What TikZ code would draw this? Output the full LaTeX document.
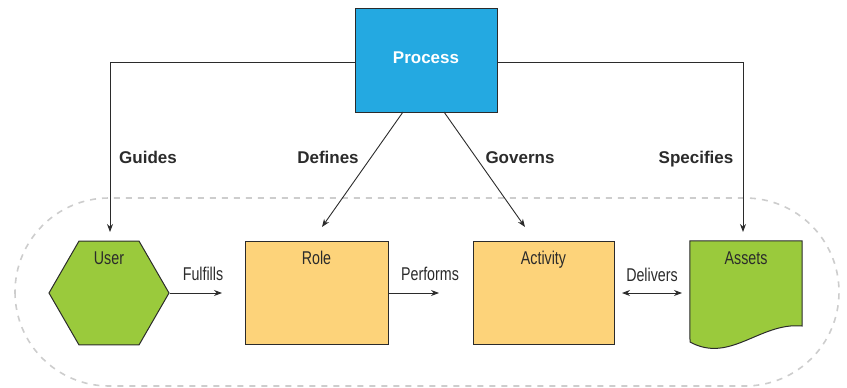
\documentclass[tikz,border=0pt]{standalone}
\usepackage{fontspec}
\setmainfont{Liberation Sans}
\newfontfamily\condfont[FakeStretch=0.77]{Liberation Sans}
\usetikzlibrary{arrows.meta,shapes.geometric}
\definecolor{procblue}{HTML}{24A9E1}
\definecolor{roleyel}{HTML}{FDD37A}
\definecolor{usergreen}{HTML}{9ACA3C}
\definecolor{inkgray}{HTML}{2B2B2B}
\definecolor{dashgray}{HTML}{CDCDCD}
\tikzset{
  box/.style={draw=inkgray, line width=1pt, inner sep=0pt},
  arr/.style={draw=inkgray, line width=0.9pt, -{Stealth[length=8pt,width=6pt]}},
  darr/.style={draw=inkgray, line width=0.9pt, {Stealth[length=8pt,width=6pt]}-{Stealth[length=8pt,width=6pt]}},
  boldlbl/.style={font=\bfseries\fontsize{17}{20}\selectfont, text=inkgray, anchor=base, inner sep=0pt},
  condlbl/.style={font=\condfont\fontsize{18.5}{22}\selectfont, text=inkgray, anchor=base, inner sep=0pt},
  dashbox/.style={draw=dashgray, line width=1.6pt, dash pattern=on 6pt off 6pt, rounded corners=94pt}
}
\begin{document}
\begin{tikzpicture}[x=1pt,y=-1pt]
\useasboundingbox (0,0) rectangle (847,388);
% dashed boundary
\draw[dashbox] (15,198) rectangle (839,386);
% process
\node[box, fill=procblue, minimum width=142pt, minimum height=104pt] (process) at (426,60) {};
\node[font=\bfseries\fontsize{17}{20}\selectfont, text=white, anchor=base, inner sep=0pt] (proctext) at (426,63) {Process};
% user hexagon
\node[box, fill=usergreen, regular polygon, regular polygon sides=6, minimum size=120pt] (user) at (109,293) {};
\node[condlbl] (usertext) at (109,264) {User};
% role and activity
\node[box, fill=roleyel, minimum width=143pt, minimum height=103pt] (role) at (316.5,293) {};
\node[condlbl] (roletext) at (316.5,264) {Role};
\node[box, fill=roleyel, minimum width=141pt, minimum height=103pt] (activity) at (543.5,293) {};
\node[condlbl] (acttext) at (543.5,264) {Activity};
% assets document
\node[minimum width=112pt, minimum height=101pt, inner sep=0pt] (assets) at (746,291.5) {};
\draw[box, fill=usergreen] (assets.north west) -- (assets.north east) -- (802,326)
  .. controls (760,322) and (730,364) .. (690,342) -- cycle;
\node[condlbl] (assetstext) at (746,264) {Assets};
% coordinates
\coordinate (guidesend) at (110,232);
\coordinate (specend) at (743,232);
\coordinate (defstart) at (403,112);
\coordinate (defend) at (322,227);
\coordinate (govstart) at (444,112);
\coordinate (govend) at (525,227);
\coordinate (fulend) at (222,293);
\coordinate (perfend) at (439,293);
\coordinate (delstart) at (622,293);
\coordinate (delend) at (682,293);
% connectors
\draw[arr] ([yshift=-2pt]process.west) -| (guidesend);
\draw[arr] ([yshift=-2pt]process.east) -| (specend);
\draw[arr] (defstart) -- (defend);
\draw[arr] (govstart) -- (govend);
\draw[arr] (user.east) -- (fulend);
\draw[arr] (role.east) -- (perfend);
\draw[darr] (delstart) -- (delend);
% labels
\node[boldlbl] (guides) at (148,163) {Guides};
\node[boldlbl] (defines) at (328,163) {Defines};
\node[boldlbl] (governs) at (520,163) {Governs};
\node[boldlbl] (specifies) at (696,163) {Specifies};
\node[condlbl] (fulfills) at (203,280) {Fulfills};
\node[condlbl] (performs) at (430,280) {Performs};
\node[condlbl] (delivers) at (652,281) {Delivers};
\end{tikzpicture}
\end{document}
